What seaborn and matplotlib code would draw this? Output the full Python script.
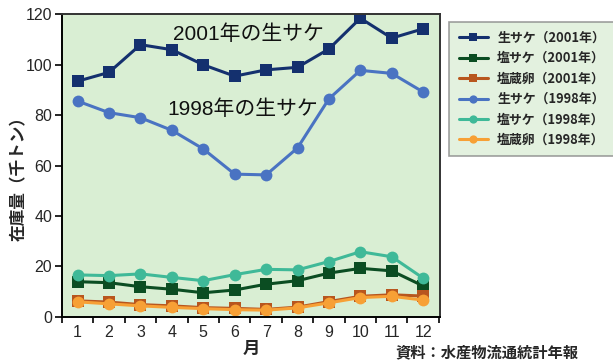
import matplotlib
matplotlib.use("Agg")
import matplotlib.pyplot as plt
import seaborn as sns
import pandas as pd

months = list(range(1, 13))
labels = ["生サケ（2001年）", "塩サケ（2001年）", "塩蔵卵（2001年）",
          "生サケ（1998年）", "塩サケ（1998年）", "塩蔵卵（1998年）"]
nama_2001 = [93.5, 97, 108, 106, 100, 95.5, 98, 99, 106.3, 118.5, 110.6, 114.3]
shio_2001 = [13.9, 13.5, 11.9, 10.9, 9.5, 10.6, 12.9, 14.3, 17.3, 19.2, 18.2, 12.2]
ran_2001 = [6.3, 5.8, 4.8, 4.3, 3.6, 3.3, 2.9, 3.8, 6.0, 8.1, 8.7, 8.2]
nama_1998 = [85.6, 81, 79, 74, 66.6, 56.6, 56.3, 67, 86.5, 97.8, 96.6, 89.2]
shio_1998 = [16.6, 16.3, 17.0, 15.6, 14.3, 16.7, 18.8, 18.6, 21.9, 25.8, 23.8, 15.3]
ran_1998 = [5.9, 5.1, 4.3, 3.7, 3.2, 2.8, 2.6, 3.5, 5.5, 7.6, 8.1, 6.6]
series = [nama_2001, shio_2001, ran_2001, nama_1998, shio_1998, ran_1998]
colors = ["#14306e", "#0b4d22", "#b8561e", "#4a73c2", "#3fb998", "#f7a035"]
markers = ["s", "s", "s", "o", "o", "o"]
yticks = [0, 20, 40, 60, 80, 100, 120]

rows = []
for lab, vals in zip(labels, series):
    for m, v in zip(months, vals):
        rows.append({"月": m, "値": v, "系列": lab})
df = pd.DataFrame(rows)

sns.set_theme(style="white")
plt.rcParams["font.family"] = ["Liberation Sans", "Noto Sans CJK JP", "DejaVu Sans"]
CJK = ["Noto Sans CJK JP", "DejaVu Sans"]

fig = plt.figure(figsize=(6.13, 3.61), dpi=100)
ax = fig.add_axes([0.101, 0.1227, 0.617, 0.8373])
ax.set_facecolor("#d9eed3")

for lab, c, mk in zip(labels, colors, markers):
    sns.lineplot(data=df[df["系列"] == lab], x="月", y="値", ax=ax, color=c,
                 marker=mk, markersize=8 if mk == "s" else 8.5, markeredgewidth=0,
                 linewidth=2.2, label=lab, legend=False)

ax.set_xlim(0.53, 12.54)
ax.set_ylim(0, 120)
ax.set_xticks(months)
ax.set_xticklabels([str(m) for m in months], fontsize=11.5)
ax.set_xticks([m + 0.5 for m in range(0, 13)], minor=True)
ax.tick_params(axis="x", which="major", length=0, pad=6)
ax.tick_params(axis="x", which="minor", length=4, width=1.2, color="black", direction="out", bottom=True)
ax.set_yticks(yticks)
ax.set_yticklabels([str(t) for t in yticks], fontsize=11.5)
ax.tick_params(axis="y", which="major", length=5, width=1.2, color="black", direction="out", left=True, pad=2)

for s in ["left", "bottom"]:
    ax.spines[s].set_color("black")
    ax.spines[s].set_linewidth(1.4)
for s in ["top", "right"]:
    ax.spines[s].set_color("#333333")
    ax.spines[s].set_linewidth(1.4)

ax.set_xlabel("月", fontsize=12.5, labelpad=0, family=CJK, fontweight="bold")
ax.set_ylabel("在庫量（千トン）", fontsize=12, family=CJK, fontweight="bold")
ax.yaxis.set_label_coords(-0.09, 0.47)

ax.text(6.45, 112, "2001年の生サケ", fontsize=15, ha="center", va="center", color="#111111",
        family=["Liberation Sans", "Noto Sans CJK JP"])
ax.text(6.26, 82.2, "1998年の生サケ", fontsize=15, ha="center", va="center", color="#111111",
        family=["Liberation Sans", "Noto Sans CJK JP"])

handles, hl = ax.get_legend_handles_labels()
leg = fig.legend(handles, hl, loc="upper left", bbox_to_anchor=(0.7227, 0.958),
                 prop={"family": CJK, "size": 9.3, "weight": "bold"}, frameon=True, handlelength=2.3,
                 labelspacing=0.5, borderpad=0.7, handletextpad=0.7, markerscale=0.7)
leg.get_frame().set_facecolor("#ddeed8")
leg.get_frame().set_edgecolor("#888888")
leg.get_frame().set_linewidth(1.2)
leg.get_frame().set_boxstyle("square", pad=0)

fig.text(0.645, 0.003, "資料：水産物流通統計年報", fontsize=11, ha="left", va="bottom",
         family=CJK, fontweight="bold")

fig.savefig("out.png", dpi=100)
